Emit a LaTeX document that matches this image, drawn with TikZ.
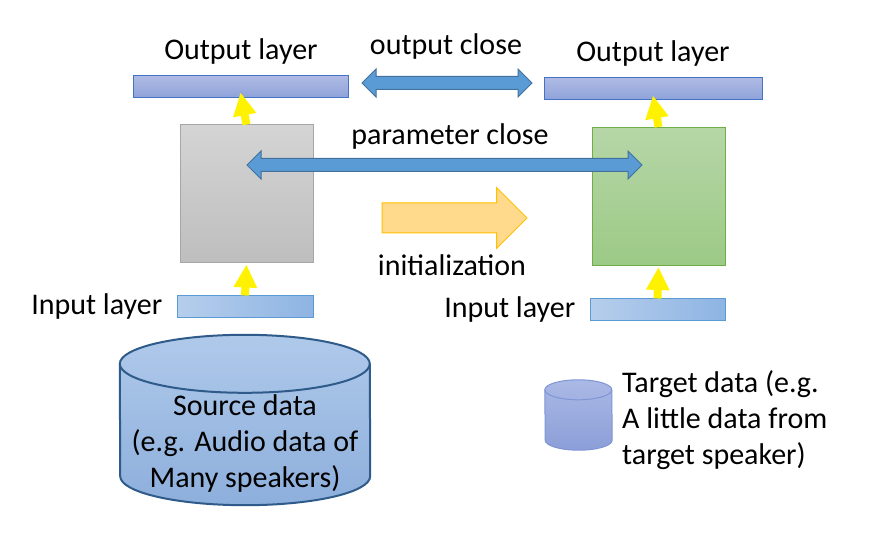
\documentclass[tikz,border=0pt]{standalone}
\usepackage{fontspec}
\setmainfont{Carlito}
\usetikzlibrary{shapes.arrows, arrows.meta, positioning}
\definecolor{outedge}{HTML}{4472C4}
\definecolor{outtop}{HTML}{AEBAE4}
\definecolor{outbot}{HTML}{8EA2D9}
\definecolor{inedge}{HTML}{5B9BD5}
\definecolor{inleft}{HTML}{B6CEEC}
\definecolor{inright}{HTML}{8EB4E3}
\definecolor{greytop}{HTML}{D4D4D4}
\definecolor{greybot}{HTML}{BEBEBE}
\definecolor{greyedge}{HTML}{A6A6A6}
\definecolor{greentop}{HTML}{B6D6A7}
\definecolor{greenbot}{HTML}{9CCA86}
\definecolor{greenedge}{HTML}{70AD47}
\definecolor{closefill}{HTML}{5B9BD5}
\definecolor{closeedge}{HTML}{41719C}
\definecolor{initfill}{HTML}{FFD98C}
\definecolor{initedge}{HTML}{FFC000}
\definecolor{srctop}{HTML}{AFC9EA}
\definecolor{srcbot}{HTML}{8DAFDC}
\definecolor{srcedge}{HTML}{2F5B8A}
\definecolor{tgttop}{HTML}{AAB9E5}
\definecolor{tgtbot}{HTML}{8C9ED8}
\definecolor{tgtedge}{HTML}{7F95D6}
\tikzset{
  txt/.style={font=\fontsize{30}{36}\selectfont, inner sep=0pt},
  outbar/.style={draw=outedge, line width=1pt, top color=outtop, bottom color=outbot, minimum width=215pt, minimum height=22pt, inner sep=0pt},
  inbar/.style={draw=inedge, line width=1pt, left color=inleft, right color=inright, minimum width=136pt, minimum height=22pt, inner sep=0pt},
  netbox/.style={line width=1pt, minimum width=133pt, minimum height=138pt, inner sep=0pt},
  feed/.style={-{Triangle[length=23pt, width=22pt]}, line width=8pt, yellow},
  closearrow/.style={double arrow, draw=closeedge, fill=closefill, line width=1pt, inner xsep=0pt, inner ysep=6pt, minimum width=27pt, double arrow head extend=7.5pt},
  drum/.style={inner sep=0pt},
}
% drum: node, x radius, y radius
\newcommand\drumpath[3]{([yshift=-#3]#1.north west) arc[start angle=180, end angle=0, x radius=#2, y radius=#3] -- ([yshift=#3]#1.south east) arc[start angle=0, end angle=-180, x radius=#2, y radius=#3] -- cycle}
\newcommand\drumrim[3]{([yshift=-#3]#1.north west) arc[start angle=180, end angle=360, x radius=#2, y radius=#3]}
\begin{document}
\begin{tikzpicture}[x=1pt, y=1pt]
	\useasboundingbox (0,0) rectangle (870,-534);

	% source side
	\node[outbar] (srcout) at (240.5,-87) {};
	\node[netbox, draw=greyedge, top color=greytop, bottom color=greybot] (srcnet) at (246.5,-194) {};
	\node[inbar] (srcin) at (245,-307) {};
	\node[txt] (srcoutlbl) at (241,-52) {Output layer};
	\node[txt, left=14pt of srcin] (srcinlbl) {Input layer};

	% target side
	\node[outbar, minimum width=218pt] (tgtout) at (653,-89) {};
	\node[netbox, draw=greenedge, top color=greentop, bottom color=greenbot] (tgtnet) at (658.5,-196.5) {};
	\node[inbar, minimum width=135pt] (tgtin) at (657.5,-310) {};
	\node[txt] (tgtoutlbl) at (653,-54) {Output layer};
	\node[txt, left=14pt of tgtin] (tgtinlbl) {Input layer};

	% feed forward
	\draw[feed] (srcnet.north) -- ([yshift=6pt]srcout.south);
	\draw[feed] (srcin.north) -- ([yshift=-1pt]srcnet.south);
	\draw[feed] (tgtnet.north) -- ([yshift=5pt]tgtout.south);
	\draw[feed] (tgtin.north) -- ([yshift=-1pt]tgtnet.south);

	% closeness and initialization
	\node[closearrow, minimum height=170pt] (outclose) at (447,-83) {};
	\node[txt] (outcloselbl) at (446,-47) {output close};
	\node[closearrow, minimum height=395pt] (parclose) at (444.5,-165) {};
	\node[txt] (parcloselbl) at (450,-137) {parameter close};
	\node[single arrow, draw=initedge, fill=initfill, line width=1pt, minimum height=145pt, minimum width=60pt, inner xsep=0pt, inner ysep=14.5pt, single arrow head extend=15.5pt] (init) at (447,-218) {};
	\node[txt] (initlbl) at (452,-265) {initialization};

	% data
	\node[drum, minimum width=250pt, minimum height=170pt] (srcdata) at (245,-420) {};
	\path[draw=srcedge, line width=2pt, top color=srctop, bottom color=srcbot] \drumpath{srcdata}{125pt}{29pt};
	\draw[srcedge, line width=2pt] \drumrim{srcdata}{125pt}{29pt};
	\node[txt, align=center] (srcdatalbl) at (245,-444) {Source data\\(e.g. Audio data of\\Many speakers)};
	\node[drum, minimum width=67pt, minimum height=70pt] (tgtdata) at (578.5,-415) {};
	\path[draw=tgtedge, line width=1pt, top color=tgttop, bottom color=tgtbot] \drumpath{tgtdata}{33.5pt}{10pt};
	\draw[tgtedge, line width=1pt] \drumrim{tgtdata}{33.5pt}{10pt};
	\node[txt, align=left, anchor=west] (tgtdatalbl) at (622,-420) {Target data (e.g.\\A little data from\\target speaker)};
\end{tikzpicture}
\end{document}
